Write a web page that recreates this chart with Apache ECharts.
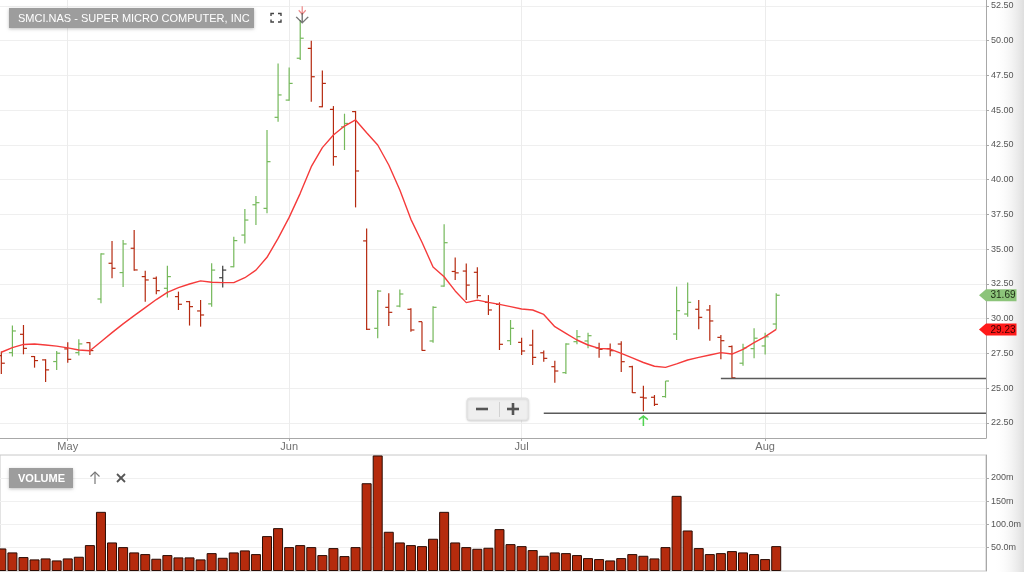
<!DOCTYPE html>
<html>
<head>
<meta charset="utf-8">
<script src="https://cdn.jsdelivr.net/npm/echarts@6/dist/echarts.min.js"></script>
<style>
html,body{margin:0;padding:0;background:#ffffff;}
#chart{width:1024px;height:572px;}
</style>
</head>
<body>
<div id="chart"></div>
<script>
// ---------- data ----------
const titleText = 'SMCI.NAS - SUPER MICRO COMPUTER, INC';
const monthLabels = ['May', 'Jun', 'Jul', 'Aug'];
const monthStartIndex = [6, 26, 47, 69];
const priceTicks = [22.5, 25, 27.5, 30, 32.5, 35, 37.5, 40, 42.5, 45, 47.5, 50, 52.5];
const volumeTicks = [50, 100, 150, 200];
const volumeTickLabels = ['50.0m', '100.0m', '150m', '200m'];

const openPrices = [27.35, 27.56, 28.88, 27.28, 27.04, 26.92, 27.83, 27.56, 28.28, 31.42,
  33.99, 33.32, 35.07, 33.03, 32.91, 32.19, 31.59, 31.23, 30.56, 31.07,
  32.95, 33.74, 36.02, 38.2, 37.94, 44.49, 45.73, 48.74, 49.45, 45.25,
  45.06, 43.8, 44.9, 35.6, 29.31, 30.82, 30.91, 30.68, 29.79, 28.4,
  32.35, 33.4, 33.43, 33.34, 31.18, 31.03, 28.42, 28.3, 28.1, 27.55,
  26.55, 26.12, 28.35, 28.4, 27.9, 27.85, 28.18, 26.55, 24.35, 24.35,
  24.4, 28.9, 30.34, 30.68, 30.63, 28.66, 28.0, 26.8, 27.85, 28.04,
  29.62];
const highPrices = [27.64, 29.51, 29.55, 27.32, 27.08, 27.68, 28.31, 28.52, 28.31, 34.71,
  35.6, 35.67, 36.39, 33.46, 33.03, 33.82, 31.95, 31.28, 31.35, 33.99,
  33.82, 35.9, 37.89, 38.83, 43.58, 48.37, 48.08, 51.5, 50.0, 47.85,
  45.3, 44.75, 44.95, 36.5, 32.07, 31.83, 32.11, 30.75, 29.79, 30.9,
  36.8, 34.41, 33.98, 33.7, 31.7, 31.18, 29.91, 28.63, 29.2, 27.72,
  26.98, 28.23, 29.19, 29.0, 28.28, 28.21, 28.38, 26.62, 25.17, 24.51,
  25.52, 32.31, 32.6, 31.35, 30.99, 28.83, 28.08, 28.2, 29.31, 29.0,
  31.83];
const lowPrices = [26.03, 27.28, 27.44, 26.48, 25.45, 26.32, 26.84, 27.35, 27.4, 31.11,
  32.91, 32.29, 33.46, 31.23, 31.76, 31.52, 30.63, 29.51, 29.43, 30.87,
  32.24, 33.7, 35.42, 36.74, 37.58, 44.18, 45.69, 48.62, 45.61, 45.21,
  41.01, 42.14, 38.01, 29.19, 28.59, 29.48, 30.82, 29.07, 27.7, 28.28,
  32.3, 32.78, 31.34, 31.46, 30.27, 27.75, 28.11, 27.39, 26.67, 26.9,
  25.4, 26.02, 28.16, 27.87, 27.2, 27.3, 26.16, 24.65, 23.34, 23.72,
  24.32, 28.47, 30.15, 29.24, 28.42, 27.08, 25.7, 26.62, 27.15, 27.42,
  29.25];
const closePrices = [26.8, 29.12, 27.87, 26.99, 26.32, 27.52, 27.08, 28.19, 27.71, 34.66,
  33.63, 35.38, 33.51, 32.79, 32.02, 33.03, 31.04, 30.87, 30.27, 33.5,
  33.5, 35.62, 37.1, 38.35, 41.3, 46.1, 46.93, 50.18, 47.41, 46.93,
  41.66, 44.05, 40.63, 29.24, 31.99, 30.46, 31.78, 29.19, 27.72, 30.82,
  35.47, 33.3, 32.42, 31.66, 30.63, 28.16, 29.31, 27.68, 27.22, 27.15,
  26.24, 28.18, 28.71, 28.78, 27.8, 27.7, 26.91, 24.68, 24.3, 23.84,
  25.52, 30.58, 31.18, 30.1, 29.84, 28.42, 25.75, 27.9, 28.6, 28.7,
  31.69];
const movingAverage = [27.59, 27.92, 28.15, 28.18, 28.11, 28.03, 27.9, 27.75, 27.7, 28.35,
  29.0, 29.63, 30.22, 30.8, 31.38, 31.9, 32.24, 32.5, 32.72, 32.62,
  32.6, 32.6, 32.95, 33.5, 34.42, 35.78, 37.29, 39.02, 40.94, 42.31,
  43.22, 43.86, 44.3, 43.38, 42.5, 41.06, 39.26, 37.15, 35.5, 33.72,
  33.02, 32.0, 31.16, 31.34, 31.18, 31.03, 30.87, 30.7, 30.63, 30.31,
  29.43, 28.95, 28.47, 28.11, 27.87, 27.82, 27.51, 27.18, 26.85, 26.58,
  26.5, 26.75, 27.03, 27.22, 27.39, 27.56, 27.46, 27.8, 28.28, 28.71,
  29.23];
const volumes = [48.4, 39.9, 29.9, 24.9, 27.0, 22.7, 27.0, 30.6, 55.6, 127,
  61.3, 51.3, 39.9, 36.3, 26.3, 34.2, 29.2, 29.2, 24.9, 38.4,
  28.4, 39.9, 44.2, 36.3, 74.9, 92.0, 51.3, 55.6, 51.3, 34.2,
  49.2, 32.0, 51.3, 188.4, 248, 84.2, 61.3, 55.6, 53.4, 69.2,
  127, 61.3, 51.3, 47.7, 49.9, 89.9, 57.7, 53.4, 44.9, 32.7,
  39.9, 38.4, 34.2, 27.7, 25.6, 22.7, 27.7, 36.3, 32.7, 27.0,
  51.3, 161.3, 87.0, 49.2, 36.3, 38.4, 42.7, 39.9, 36.3, 25.6,
  53.4];
const supportLevels = [
  { startIndex: 49, price: 23.2 },
  { startIndex: 65, price: 25.7 }
];
const buySignals = [{ index: 58, price: 22.64 }];
const sellSignals = [{ index: 27, price: 52.2 }];
const sellConfirm = [{ index: 27, price: 51.64 }];

// ---------- axis ranges ----------
const xMin = -0.12, xMax = 88.95;
const priceMin = 21.42, priceMax = 52.93;
const volumeMax = 249;

const UP = '#74b85a', DOWN = '#b52a10', FLAT = '#3a3a3a';
const FONT = '"Liberation Sans", Arial, Helvetica, sans-serif';

const ohlcData = openPrices.map((o, i) => [i, o, highPrices[i], lowPrices[i], closePrices[i]]);
const maData = movingAverage.map((v, i) => [i, v]);
const volumeData = volumes.map((v, i) => [i, v]);

function barColor(i) {
  const c = closePrices[i];
  const ref = i === 0 ? openPrices[0] : closePrices[i - 1];
  if (c > ref) return UP;
  if (c < ref) return DOWN;
  return FLAT;
}

const chart = echarts.init(document.getElementById('chart'), null, { renderer: 'canvas' });

const baseGraphic = [
  { type: 'rect', z: 0, silent: true, shape: { x: 994, y: 0, width: 30, height: 572 },
    style: { fill: new echarts.graphic.LinearGradient(0, 0, 1, 0, [
      { offset: 0, color: 'rgba(255,255,255,0)' }, { offset: 1, color: '#dedede' }]) } },
  { type: 'rect', z: 100, shape: { x: 9, y: 8, width: 245, height: 20 },
    style: { fill: '#9d9d9d', shadowBlur: 3, shadowColor: 'rgba(0,0,0,0.25)', shadowOffsetY: 1 } },
  { type: 'text', z: 101, x: 18, y: 18.5,
    style: { text: titleText, fill: '#ffffff', font: '11px ' + FONT, textVerticalAlign: 'middle', verticalAlign: 'middle' } },
  // fullscreen icon
  { type: 'polyline', z: 101, shape: { points: [[271, 16], [271, 13.5], [274, 13.5]] }, style: { stroke: '#444', lineWidth: 1.4, fill: null } },
  { type: 'polyline', z: 101, shape: { points: [[278, 13.5], [281, 13.5], [281, 16]] }, style: { stroke: '#444', lineWidth: 1.4, fill: null } },
  { type: 'polyline', z: 101, shape: { points: [[271, 19.5], [271, 22], [274, 22]] }, style: { stroke: '#444', lineWidth: 1.4, fill: null } },
  { type: 'polyline', z: 101, shape: { points: [[278, 22], [281, 22], [281, 19.5]] }, style: { stroke: '#444', lineWidth: 1.4, fill: null } },
  // VOLUME label box
  { type: 'rect', z: 100, shape: { x: 9, y: 468, width: 64, height: 20 },
    style: { fill: '#9d9d9d', shadowBlur: 3, shadowColor: 'rgba(0,0,0,0.25)', shadowOffsetY: 1 } },
  { type: 'text', z: 101, x: 18, y: 478.5,
    style: { text: 'VOLUME', fill: '#ffffff', font: 'bold 11px ' + FONT, textVerticalAlign: 'middle', verticalAlign: 'middle' } },
  { type: 'polyline', z: 101, shape: { points: [[95, 484], [95, 472]] }, style: { stroke: '#777', lineWidth: 1.2, fill: null } },
  { type: 'polyline', z: 101, shape: { points: [[90.5, 476.5], [95, 472], [99.5, 476.5]] }, style: { stroke: '#777', lineWidth: 1.2, fill: null } },
  { type: 'line', z: 101, shape: { x1: 117, y1: 474, x2: 125, y2: 482 }, style: { stroke: '#555', lineWidth: 1.8 } },
  { type: 'line', z: 101, shape: { x1: 125, y1: 474, x2: 117, y2: 482 }, style: { stroke: '#555', lineWidth: 1.8 } },
  // zoom +/- control
  { type: 'rect', z: 100, shape: { x: 467, y: 398, width: 61.5, height: 22, r: 3 },
    style: { fill: '#efefef', stroke: '#e2e2e2', lineWidth: 1, shadowBlur: 2, shadowColor: 'rgba(0,0,0,0.15)', shadowOffsetY: 1 } },
  { type: 'line', z: 101, shape: { x1: 476, y1: 409, x2: 488, y2: 409 }, style: { stroke: '#555', lineWidth: 2.6 } },
  { type: 'line', z: 101, shape: { x1: 499.5, y1: 402, x2: 499.5, y2: 417 }, style: { stroke: '#d2d2d2', lineWidth: 1 } },
  { type: 'line', z: 101, shape: { x1: 507, y1: 409, x2: 519, y2: 409 }, style: { stroke: '#555', lineWidth: 2.6 } },
  { type: 'line', z: 101, shape: { x1: 513, y1: 403, x2: 513, y2: 415 }, style: { stroke: '#555', lineWidth: 2.6 } }
];

const option = {
  animation: false,
  backgroundColor: '#ffffff',
  textStyle: { fontFamily: FONT },
  grid: [
    { left: 0, right: 38, top: 0, height: 438 },
    { left: 0, right: 38, top: 455, height: 116, show: true, borderColor: '#c8c8c8', borderWidth: 1, backgroundColor: 'transparent' }
  ],
  xAxis: [
    { type: 'value', gridIndex: 0, min: xMin, max: xMax,
      axisLine: { show: true, onZero: false, lineStyle: { color: '#a8a8a8', width: 1 } },
      axisTick: { show: true, customValues: monthStartIndex, length: 3, lineStyle: { color: '#a8a8a8' } },
      axisLabel: { customValues: monthStartIndex, color: '#707070', fontSize: 11, margin: 3, fontFamily: FONT,
        formatter: v => monthLabels[monthStartIndex.indexOf(Math.round(v))] || '' },
      splitLine: { show: true, lineStyle: { color: '#ececec', width: 1 } } },
    { type: 'value', gridIndex: 1, min: xMin, max: xMax,
      axisLine: { show: false, onZero: false }, axisTick: { show: false }, axisLabel: { show: false }, splitLine: { show: false } }
  ],
  yAxis: [
    { type: 'value', gridIndex: 0, position: 'right', min: priceMin, max: priceMax, scale: true,
      axisLine: { show: true, onZero: false, lineStyle: { color: '#a8a8a8' } },
      axisTick: { show: true, customValues: priceTicks, length: 3, lineStyle: { color: '#a8a8a8' } },
      axisLabel: { customValues: priceTicks, color: '#555', fontSize: 9, margin: 5, fontFamily: FONT,
        formatter: v => Number(v).toFixed(2) },
      splitLine: { show: true, lineStyle: { color: '#efefef', width: 1 } } },
    { type: 'value', gridIndex: 1, position: 'right', min: 0, max: volumeMax,
      axisLine: { show: true, onZero: false, lineStyle: { color: '#a8a8a8' } },
      axisTick: { show: true, customValues: volumeTicks, length: 3, lineStyle: { color: '#a8a8a8' } },
      axisLabel: { customValues: volumeTicks, color: '#555', fontSize: 9, margin: 5, fontFamily: FONT,
        formatter: v => volumeTickLabels[volumeTicks.indexOf(Math.round(v))] || '' },
      splitLine: { show: true, lineStyle: { color: '#f0f0f0', width: 1 } } }
  ],
  series: [
    {
      type: 'custom', name: 'OHLC', xAxisIndex: 0, yAxisIndex: 0, z: 3,
      data: ohlcData,
      encode: { x: 0, y: [1, 2, 3, 4] },
      renderItem: function (params, api) {
        const i = api.value(0);
        const o = api.coord([i, api.value(1)]);
        const h = api.coord([i, api.value(2)]);
        const l = api.coord([i, api.value(3)]);
        const c = api.coord([i, api.value(4)]);
        const color = barColor(params.dataIndex);
        const st = { stroke: color, lineWidth: 1.2 };
        return {
          type: 'group',
          children: [
            { type: 'line', shape: { x1: h[0], y1: h[1], x2: l[0], y2: l[1] }, style: st },
            { type: 'line', shape: { x1: o[0] - 3.5, y1: o[1], x2: o[0], y2: o[1] }, style: st },
            { type: 'line', shape: { x1: c[0], y1: c[1], x2: c[0] + 3.5, y2: c[1] }, style: st }
          ]
        };
      }
    },
    {
      type: 'line', name: 'MA', xAxisIndex: 0, yAxisIndex: 0, z: 4,
      data: maData, symbol: 'none', smooth: false,
      lineStyle: { color: '#f53b3b', width: 1.4 }
    },
    ...supportLevels.map(s => ({
      type: 'line', xAxisIndex: 0, yAxisIndex: 0, z: 4, symbol: 'none',
      data: [[s.startIndex, s.price], [xMax, s.price]],
      lineStyle: { color: '#5a5a5a', width: 1.6 }
    })),
    {
      type: 'scatter', xAxisIndex: 0, yAxisIndex: 0, z: 5,
      data: buySignals.map(s => [s.index, s.price]),
      symbol: 'path://M5,12 L5,1 M1,5 L5,1 L9,5', symbolSize: [9, 10],
      itemStyle: { color: 'transparent', borderColor: '#25c825', borderWidth: 1.6 }
    },
    {
      type: 'scatter', xAxisIndex: 0, yAxisIndex: 0, z: 5,
      data: sellSignals.map(s => [s.index, s.price]),
      symbol: 'path://M4,0 L4,8 M0,4 L4,8 L8,4', symbolSize: [7, 8], symbolOffset: [2, 0],
      itemStyle: { color: 'transparent', borderColor: '#ea6b6b', borderWidth: 1.3 }
    },
    {
      type: 'scatter', xAxisIndex: 0, yAxisIndex: 0, z: 5,
      data: sellConfirm.map(s => [s.index, s.price]),
      symbol: 'path://M6,0 L6,10 M0,4 L6,10 L12,4', symbolSize: [12, 10], symbolOffset: [2, 0],
      itemStyle: { color: 'transparent', borderColor: '#555555', borderWidth: 1.3 }
    },
    {
      type: 'bar', name: 'Volume', xAxisIndex: 1, yAxisIndex: 1, z: 3,
      data: volumeData, barWidth: 10,
      itemStyle: { color: '#b52b0d', borderColor: '#2b0c04', borderWidth: 1 }
    }
  ],
  graphic: baseGraphic
};

chart.setOption(option);

// price tags on the right axis, placed through the chart's own scales
const lastClose = closePrices[closePrices.length - 1];
const lastMA = movingAverage[movingAverage.length - 1];
const axisX = chart.convertToPixel({ xAxisIndex: 0 }, xMax);
function tag(value, fill, textFill) {
  const y = chart.convertToPixel({ yAxisIndex: 0 }, value);
  return [
    { type: 'polygon', z: 110,
      shape: { points: [[axisX - 7, y], [axisX, y - 6], [axisX + 30.5, y - 6], [axisX + 30.5, y + 6], [axisX, y + 6]] },
      style: { fill: fill } },
    { type: 'text', z: 111, x: axisX + 17, y: y + 0.5,
      style: { text: value.toFixed(2), fill: textFill, font: '10px ' + FONT,
        textAlign: 'center', align: 'center', textVerticalAlign: 'middle', verticalAlign: 'middle' } }
  ];
}
chart.setOption({ graphic: baseGraphic.concat(tag(lastClose, '#8cc47a', '#1c2a14'), tag(lastMA, '#ff1a1a', '#3a0000')) });
</script>
</body>
</html>
